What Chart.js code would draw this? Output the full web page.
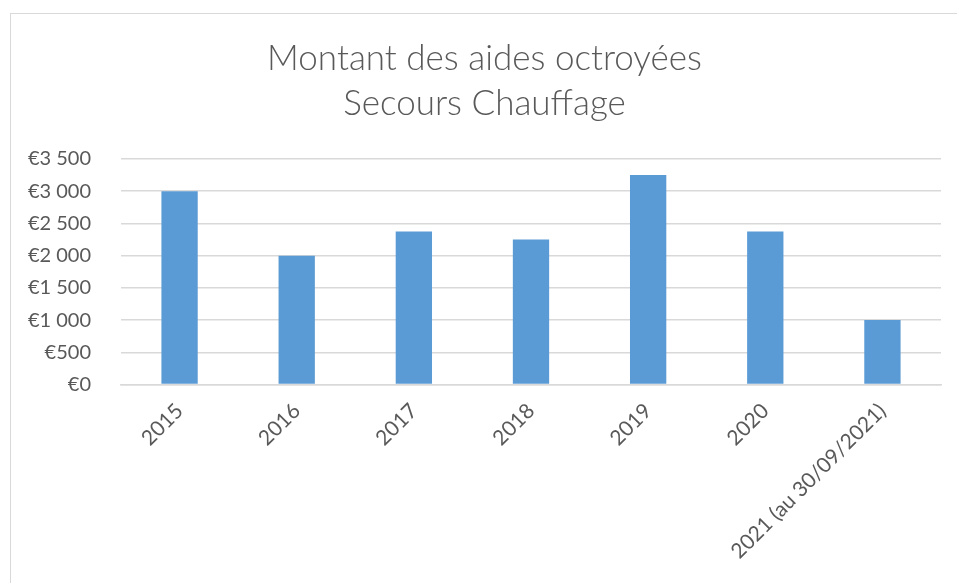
<!DOCTYPE html>
<html>
<head>
<meta charset="utf-8">
<script src="https://cdn.jsdelivr.net/npm/chart.js@4/dist/chart.umd.min.js"></script>
<style>
  html, body { margin: 0; padding: 0; background: #ffffff; }
  body { width: 957px; height: 583px; position: relative; overflow: hidden; }
  #frame { position: absolute; left: 10px; top: 13px; width: 1000px; height: 600px;
           border-left: 1px solid #d9d9d9; border-top: 1px solid #d9d9d9; }
  #wrap { position: absolute; left: 0; top: 0; width: 957px; height: 583px; }
</style>
</head>
<body>
<div id="frame"></div>
<div id="wrap"><canvas id="c" width="957" height="583"></canvas></div>
<script>
const categories = ['2015', '2016', '2017', '2018', '2019', '2020', '2021 (au 30/09/2021)'];
const montants = [3000, 2000, 2375, 2250, 3250, 2375, 1000];
const yTicks = [0, 500, 1000, 1500, 2000, 2500, 3000, 3500];
const titleLines = ['Montant des aides octroyées', 'Secours Chauffage'];

function euro(v) {
  const s = String(Math.round(v)).replace(/\B(?=(\d{3})+(?!\d))/g, '\u00a0');
  return '€' + s;
}

const FONT = 'Lato, "Open Sans", sans-serif';

new Chart(document.getElementById('c'), {
  type: 'bar',
  data: {
    labels: categories,
    datasets: [{
      data: montants,
      backgroundColor: '#5b9bd5',
      borderWidth: 0,
      barPercentage: 0.31,
      categoryPercentage: 1.0
    }]
  },
  options: {
    responsive: false,
    animation: false,
    layout: { padding: { left: 28, right: 16, top: 0, bottom: 13 } },
    plugins: {
      legend: { display: false },
      tooltip: { enabled: false },
      title: {
        display: true,
        text: titleLines,
        color: '#595959',
        font: { family: FONT, size: 35, weight: '300', lineHeight: '45px' },
        padding: { top: 36, bottom: 33 }
      }
    },
    scales: {
      x: {
        grid: { display: false },
        border: { display: true, color: '#d9d9d9', width: 1.5 },
        ticks: {
          color: '#595959',
          font: { family: FONT, size: 21 },
          minRotation: 45,
          maxRotation: 45,
          autoSkip: false,
          padding: 6
        }
      },
      y: {
        min: 0,
        max: 3500,
        afterBuildTicks: (scale) => { scale.ticks = yTicks.map(v => ({ value: v })); },
        afterFit: (scale) => { scale.width = 93; },
        grid: { color: '#d9d9d9', lineWidth: 1.5, drawTicks: false },
        border: { display: false },
        ticks: {
          color: '#595959',
          font: { family: FONT, size: 20 },
          padding: 30,
          callback: (v) => euro(v)
        }
      }
    }
  }
});
</script>
</body>
</html>
